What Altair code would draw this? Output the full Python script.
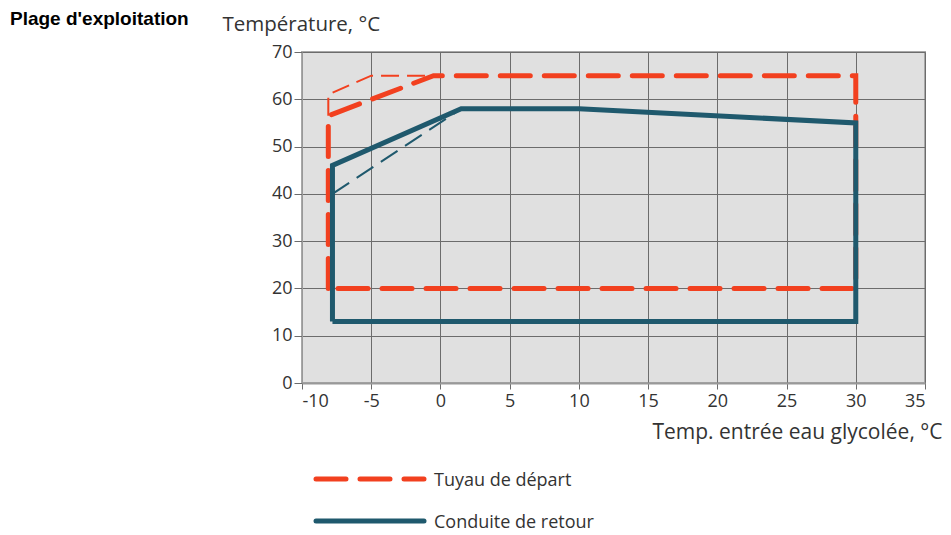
import altair as alt
import pandas as pd

# ---- data ----
depart_x = [-8.1, -8.1, -0.5, 30, 30, -8.1]
depart_y = [20, 56.5, 65, 65, 20, 20]
depart_thin_x = [-8.1, -8.1, -5, -0.5]
depart_thin_y = [56.5, 61, 65, 65]
retour_x = [-7.8, -7.8, 1.5, 10, 30, 30, -7.8]
retour_y = [13, 46, 58, 58, 55, 13, 13]
retour_thin_x = [-7.8, 1.5]
retour_thin_y = [40, 58]

x_ticks = [-10, -5, 0, 5, 10, 15, 20, 25, 30, 35]
y_ticks = [0, 10, 20, 30, 40, 50, 60, 70]

legend_labels = ["Tuyau de départ", "Conduite de retour"]
RED = "#F2401F"
BLUE = "#1F596D"
TXT = "#333333"
FONT = "Open Sans"

W, H = 623, 331


def frame(xs, ys):
    return pd.DataFrame({"x": xs, "y": ys, "o": list(range(len(xs)))})


x_enc = alt.X(
    "x:Q",
    scale=alt.Scale(domain=[-10, 35], nice=False, zero=False),
    axis=alt.Axis(
        values=x_ticks, labelExpr="'' + datum.value", grid=True,
        gridColor="#6c6c6c", gridWidth=1, tickColor="#6c6c6c", tickSize=6,
        labelFontSize=18, labelFont=FONT, labelColor=TXT, labelPadding=3,
        domainColor="#999999", domainWidth=2,
        title="Temp. entrée eau glycolée, °C", titleX=640, titleY=55,
        titleAlign="right", titleBaseline="alphabetic", titleFontSize=21,
        titleFont=FONT, titleFontWeight="normal", titleColor=TXT,
    ),
)
y_enc = alt.Y(
    "y:Q",
    scale=alt.Scale(domain=[0, 70], nice=False),
    axis=alt.Axis(
        values=y_ticks, grid=True, gridColor="#6c6c6c", gridWidth=1,
        tickColor="#6c6c6c", tickSize=8, labelFontSize=18, labelFont=FONT,
        labelColor=TXT, labelPadding=2, domainColor="#999999", domainWidth=1,
        title="Température, °C", titleAngle=0, titleX=-80, titleY=-22,
        titleAlign="left", titleBaseline="alphabetic", titleFontSize=20.5,
        titleFont=FONT, titleFontWeight="normal", titleColor=TXT,
    ),
)
enc = dict(x=x_enc, y=y_enc, order="o:Q")

depart = alt.Chart(frame(depart_x, depart_y)).mark_line(
    color=RED, strokeWidth=5, strokeDash=[30, 14], strokeCap="round"
).encode(**enc)
depart_thin = alt.Chart(frame(depart_thin_x, depart_thin_y)).mark_line(
    color=RED, strokeWidth=2, strokeDash=[18, 8]
).encode(**enc)
retour = alt.Chart(frame(retour_x, retour_y)).mark_line(
    color=BLUE, strokeWidth=5, strokeJoin="miter"
).encode(**enc)
retour_thin = alt.Chart(frame(retour_thin_x, retour_thin_y)).mark_line(
    color=BLUE, strokeWidth=2, strokeDash=[20, 9]
).encode(**enc)

one = alt.Data(values=[{"k": 1}])
leg_red = alt.Chart(one).mark_rule(
    color=RED, strokeWidth=5, strokeDash=[30, 14], strokeCap="round"
).encode(x=alt.value(14), x2=alt.value(122), y=alt.value(427))
leg_blue = alt.Chart(one).mark_rule(
    color=BLUE, strokeWidth=5, strokeCap="round"
).encode(x=alt.value(14), x2=alt.value(122), y=alt.value(469))
leg_t1 = alt.Chart(one).mark_text(
    align="left", baseline="alphabetic", fontSize=18, font=FONT, color=TXT
).encode(x=alt.value(132), y=alt.value(434), text=alt.value(legend_labels[0]))
leg_t2 = alt.Chart(one).mark_text(
    align="left", baseline="alphabetic", fontSize=18, font=FONT, color=TXT
).encode(x=alt.value(132), y=alt.value(476), text=alt.value(legend_labels[1]))

heading = alt.Chart(one).mark_text(
    align="left", baseline="alphabetic", fontSize=19, font="Liberation Sans",
    fontWeight="bold", color="#000000"
).encode(x=alt.value(-292), y=alt.value(-27), text=alt.value("Plage d'exploitation"))

chart = alt.layer(
    depart, depart_thin, retour, retour_thin,
    leg_red, leg_blue, leg_t1, leg_t2, heading,
).properties(
    width=W, height=H,
    autosize=alt.AutoSizeParams(type="none"),
    padding={"left": 294, "top": 44, "right": 18, "bottom": 152},
).configure_view(
    fill="#E0E0E0", stroke="#A8A8A8", strokeWidth=2
)

chart.save("out.html", embed_options={"renderer": "svg", "actions": False})
